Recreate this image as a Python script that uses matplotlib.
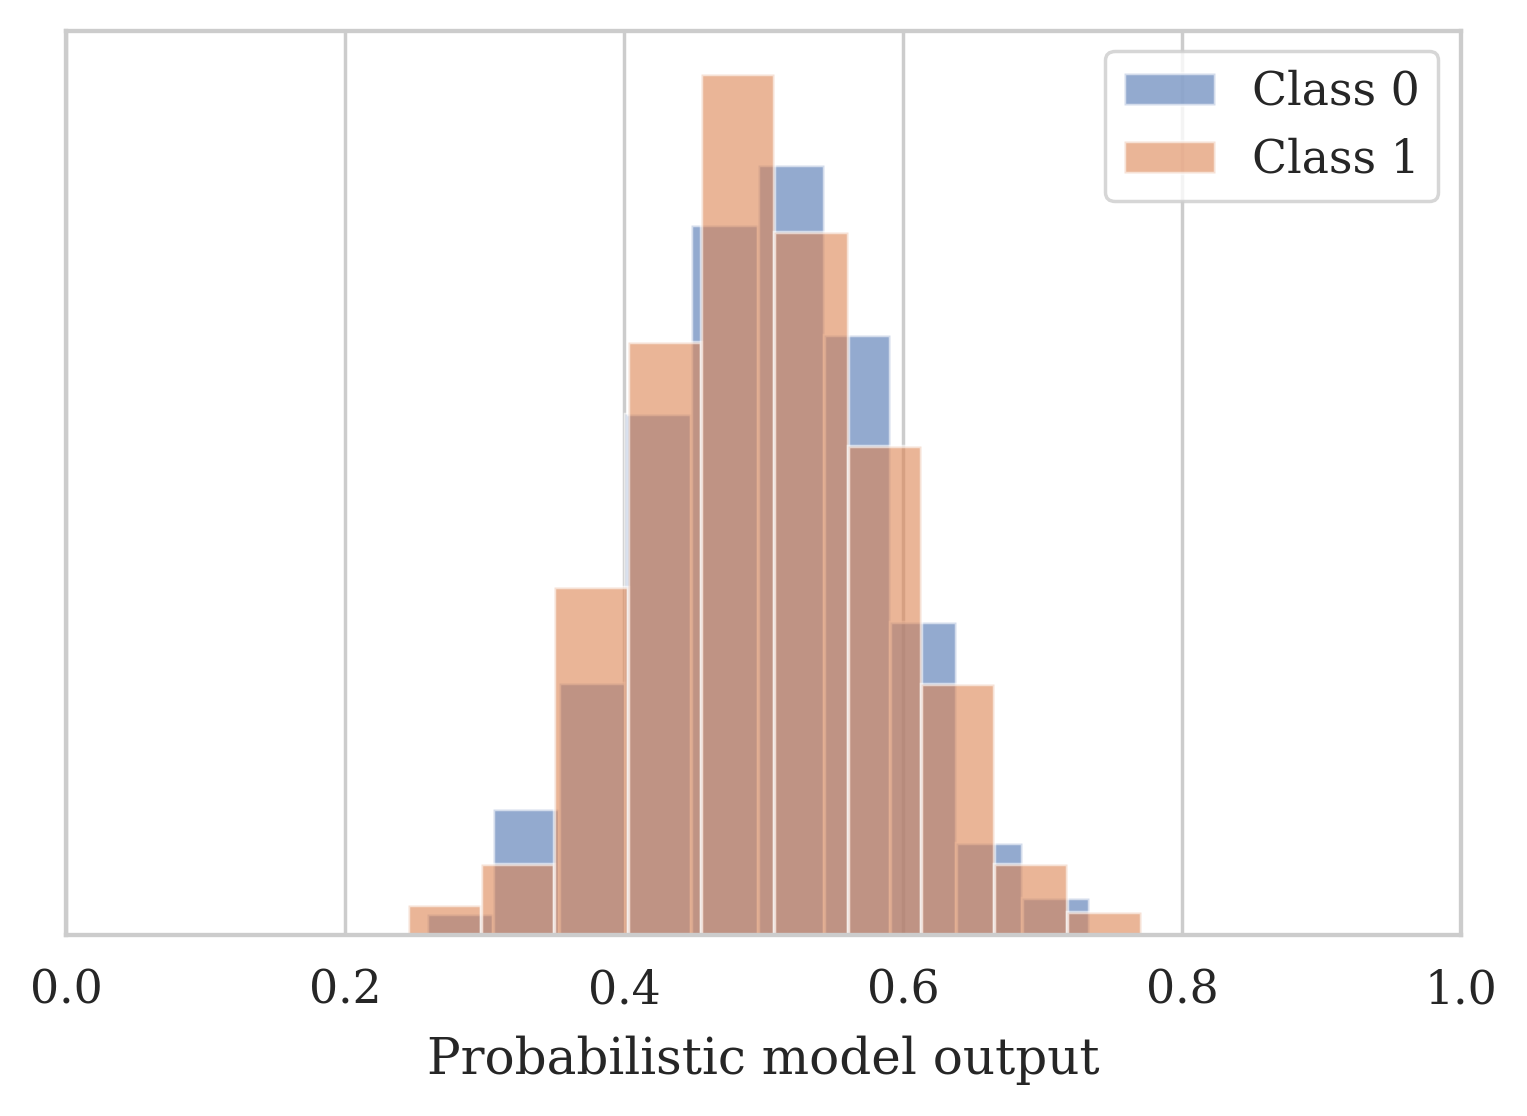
import numpy as np
import matplotlib
matplotlib.use("Agg")
import matplotlib.pyplot as plt
import seaborn as sns

# Histogram data (10 bins per class)
class0_start, class0_width = 0.2585, 0.04745
class1_start, class1_width = 0.2450, 0.05254
class0_counts = [3, 18, 36, 74.5, 101.5, 110, 85.7, 44.7, 13.1, 5.3]
class1_counts = [4.3, 10.1, 49.7, 84.7, 123, 100.4, 69.9, 35.9, 10.1, 3.3]
labels = ["Class 0", "Class 1"]
xticks = [0.0, 0.2, 0.4, 0.6, 0.8, 1.0]

sns.set_theme(style="whitegrid", font_scale=1.2)
plt.rcParams["font.family"] = ["DejaVu Serif"]

fig = plt.figure(figsize=(1527 / 250, 1116 / 250), dpi=250)
ax = fig.add_axes([66 / 1527, 1 - 935 / 1116, (1461 - 66) / 1527, (935 - 31) / 1116])

pal = sns.color_palette("deep")
for start, width, counts, lab, col in [
    (class0_start, class0_width, class0_counts, labels[0], pal[0]),
    (class1_start, class1_width, class1_counts, labels[1], pal[1]),
]:
    edges = start + width * np.arange(len(counts) + 1)
    ax.hist(edges[:-1], bins=edges, weights=counts, alpha=0.6, color=col,
            edgecolor="white", linewidth=1.0, label=lab)

ax.set_xlim(0, 1)
ax.set_xticks(xticks)
ax.set_xticklabels([f"{t:.1f}" for t in xticks])
ax.set_yticks([])
ax.set_xlabel("Probabilistic model output", labelpad=6.5)
ax.legend(loc="upper right", bbox_to_anchor=(1.0, 1.003))

fig.savefig("out.png", dpi=250)
